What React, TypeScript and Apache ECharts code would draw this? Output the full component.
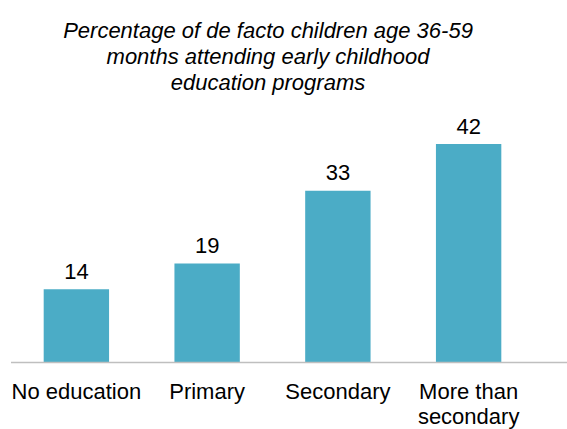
import React, { useEffect, useRef } from "react";
import * as echarts from "echarts";

const categories = ["No education", "Primary", "Secondary", "More than\nsecondary"];
const values = [14, 19, 33, 42];
const titleText = "Percentage of de facto children age 36-59\nmonths attending early childhood\neducation programs";

export default function App() {
  const ref = useRef<HTMLDivElement>(null);
  useEffect(() => {
    if (!ref.current) return;
    const chart = echarts.init(ref.current, undefined, { renderer: "svg" });
    chart.setOption({
      animation: false,
      textStyle: { fontFamily: "Liberation Sans, Arial, sans-serif" },
      title: {
        text: titleText,
        left: 263,
        top: 12,
        textAlign: "center",
        textStyle: {
          fontFamily: "Liberation Sans, Arial, sans-serif",
          fontStyle: "italic",
          fontWeight: "normal",
          fontSize: 22,
          lineHeight: 26,
          color: "#000",
        },
      },
      grid: { left: 11, right: 33, top: 102.5, bottom: 66.5, containLabel: false },
      xAxis: {
        type: "category",
        data: categories,
        axisLine: { show: false },
        axisTick: { show: false },
        axisLabel: {
          interval: 0,
          margin: 17,
          fontSize: 22,
          lineHeight: 25,
          color: "#000",
          fontFamily: "Liberation Sans, Arial, sans-serif",
        },
      },
      yAxis: {
        type: "value",
        min: 0,
        max: 50,
        show: false,
        splitLine: { show: false },
      },
      graphic: [
        {
          type: "line",
          shape: { x1: 11, y1: 362.5, x2: 567, y2: 362.5 },
          style: { stroke: "#BFBFBF", lineWidth: 1.5 },
          z: 10,
        },
      ],
      series: [
        {
          type: "bar",
          data: values,
          barCategoryGap: "50%",
          itemStyle: { color: "#4BACC6" },
          label: {
            show: true,
            position: "top",
            distance: 7,
            fontSize: 22,
            color: "#000",
            fontFamily: "Liberation Sans, Arial, sans-serif",
          },
        },
      ],
    });
    return () => chart.dispose();
  }, []);
  return <div ref={ref} style={{ width: 567, height: 429, position: "absolute", left: 0, top: 0 }} />;
}
